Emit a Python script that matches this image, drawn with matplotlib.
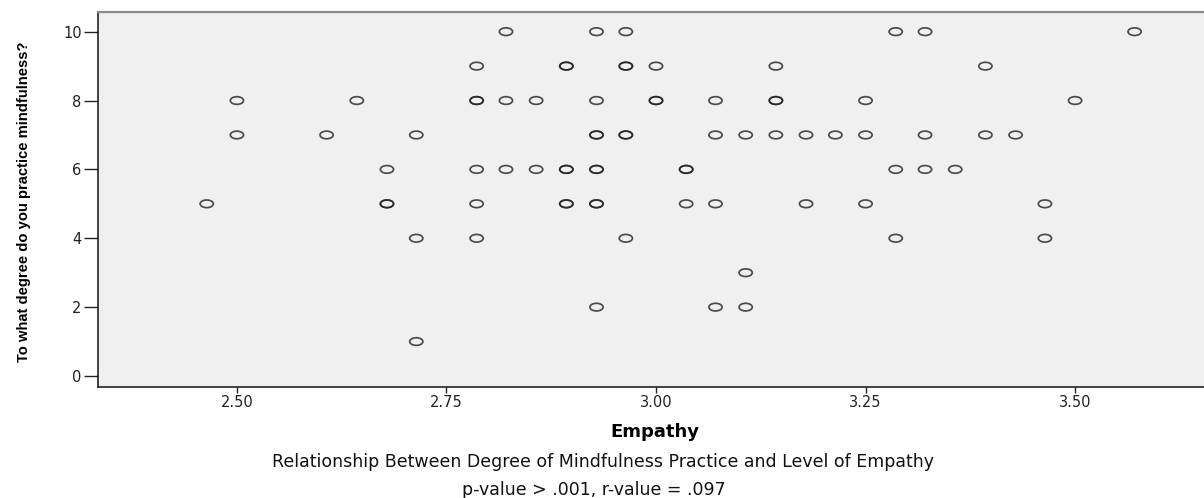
import matplotlib
matplotlib.use("Agg")
import matplotlib.pyplot as plt
import numpy as np
from matplotlib.path import Path
from matplotlib.transforms import Affine2D

# Data (Empathy score, mindfulness degree)
empathy = [
    2.464, 2.500, 2.500, 2.607, 2.643, 2.679, 2.679, 2.679, 2.714, 2.714,
    2.714, 2.786, 2.786, 2.786, 2.786, 2.786, 2.786, 2.821, 2.821, 2.821,
    2.857, 2.857, 2.893, 2.893, 2.893, 2.893, 2.893, 2.893, 2.929, 2.929,
    2.929, 2.929, 2.929, 2.929, 2.929, 2.929, 2.929, 2.964, 2.964, 2.964,
    2.964, 2.964, 2.964, 3.000, 3.000, 3.000, 3.036, 3.036, 3.036, 3.071,
    3.071, 3.071, 3.071, 3.107, 3.107, 3.107, 3.143, 3.143, 3.143, 3.143,
    3.179, 3.179, 3.214, 3.250, 3.250, 3.250, 3.286, 3.286, 3.286, 3.321,
    3.321, 3.321, 3.357, 3.393, 3.393, 3.429, 3.464, 3.464, 3.500, 3.571,
]
mindfulness = [
    5, 8, 7, 7, 8, 6, 5, 5, 7, 4,
    1, 9, 8, 8, 6, 5, 4, 10, 8, 6,
    8, 6, 9, 9, 6, 6, 5, 5, 10, 8,
    7, 7, 6, 6, 5, 5, 2, 10, 9, 9,
    7, 7, 4, 9, 8, 8, 6, 6, 5, 8,
    7, 5, 2, 7, 3, 2, 9, 8, 8, 7,
    7, 5, 7, 8, 7, 5, 10, 6, 4, 10,
    7, 6, 6, 9, 7, 7, 5, 4, 8, 10,
]

x_ticks = [2.50, 2.75, 3.00, 3.25, 3.50]
x_tick_labels = ["2.50", "2.75", "3.00", "3.25", "3.50"]
y_ticks = [0, 2, 4, 6, 8, 10]

x_label = "Empathy"
y_label = "To what degree do you practice mindfulness?"
caption1 = "Relationship Between Degree of Mindfulness Practice and Level of Empathy"
caption2 = "p-value > .001, r-value = .097"

W, H = 1204, 498
fig = plt.figure(figsize=(W / 100, H / 100), dpi=100)
ax_left = 97.7 / W
ax_bottom = 1 - 387 / H
ax_top = 1 - 11.7 / H
ax = fig.add_axes([ax_left, ax_bottom, 1.0 - ax_left, ax_top - ax_bottom])
ax.set_facecolor("#f0f0f0")

# elliptical open marker (image is horizontally stretched)
ell = Path.unit_circle().transformed(Affine2D().scale(1.0, 0.58))
ax.scatter(empathy, mindfulness, marker=ell, s=9.5 ** 2, facecolors="none",
           edgecolors="#222222", linewidths=1.25, alpha=0.8, zorder=3)

ax.set_xlim(2.3339, 3.6538)
ax.set_ylim(-0.32, 10.58)
ax.set_xticks(x_ticks)
ax.set_xticklabels(x_tick_labels)
ax.set_yticks(y_ticks)

for s in ["left", "bottom"]:
    ax.spines[s].set_color("#111111")
    ax.spines[s].set_linewidth(1.1)
ax.spines["top"].set_color("#8a8a8a")
ax.spines["top"].set_linewidth(1.6)
ax.spines["right"].set_visible(False)

ax.tick_params(axis="x", direction="out", length=4, width=1, color="#222222",
               labelsize=10.5, labelcolor="#222222", pad=2)
ax.tick_params(axis="y", direction="out", length=10, width=1, color="#222222",
               labelsize=10.5, labelcolor="#222222", pad=1.5)

ylab = fig.text(24 / W, 1 - 202 / H, y_label, rotation=90, ha="center", va="center",
                fontsize=10, fontweight="bold",
                family=["Liberation Sans", "DejaVu Sans"])
# fit the rotated label to the reference length (~320 px)
fig.canvas.draw()
ext = ylab.get_window_extent(fig.canvas.get_renderer())
ylab.set_fontsize(10 * 320 / ext.height)

fig.text(655 / W, 1 - 432 / H, x_label, ha="center", va="center",
         fontsize=13, fontweight="bold", family=["DejaVu Sans"])
fig.text(603 / W, 1 - 462 / H, caption1, ha="center", va="center",
         fontsize=12.5, color="#111111", family=["DejaVu Sans"])
fig.text(594 / W, 1 - 490 / H, caption2, ha="center", va="center",
         fontsize=12.5, color="#111111", family=["DejaVu Sans"])

fig.savefig("out.png", dpi=100, facecolor="white")
